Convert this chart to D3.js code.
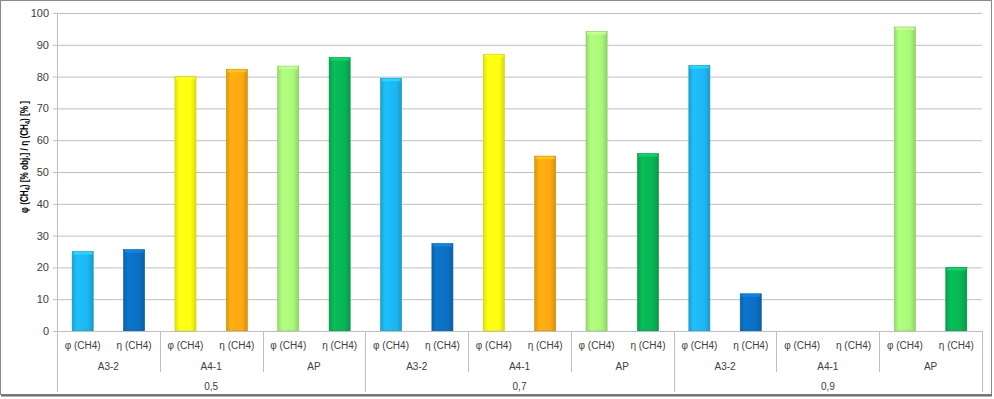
<!DOCTYPE html>
<html>
<head>
<meta charset="utf-8">
<script src="https://cdn.jsdelivr.net/npm/d3@7"></script>
<style>
  body { margin: 0; background: #fff; }
  svg { display: block; font-family: "Liberation Sans", Arial, sans-serif; }
</style>
</head>
<body>
<div id="chart"></div>
<script>
// Category levels (outer to inner)
var groups = ["0,5", "0,7", "0,9"];
var samples = ["A3-2", "A4-1", "AP"];
var measures = ["φ (CH4)", "η (CH4)"];

// Values in group/sample order (null = no bar)
var phiValues = [25.0, 80.0, 83.3, 79.5, 87.0, 94.2, 83.5, null, 95.6];
var etaValues = [25.6, 82.3, 86.0, 27.5, 55.0, 55.8, 11.7, null, 20.0];

var yTicks = [0, 10, 20, 30, 40, 50, 60, 70, 80, 90, 100];

// Bar colours by sample: [phi, eta]
var sampleColors = {
  "A3-2": ["#1cb6f0", "#0a70c2"],
  "A4-1": ["#ffff10", "#ffa810"],
  "AP": ["#a8f878", "#08b454"]
};

var width = 994, height = 399;
var plot = { left: 57, right: 982, top: 13, bottom: 331 };

// Build the leaf rows
var rows = [];
groups.forEach(function (g, gi) {
  samples.forEach(function (s, si) {
    var idx = gi * samples.length + si;
    rows.push({ key: g + "|" + s + "|0", group: g, sample: s, measure: measures[0], m: 0, value: phiValues[idx] });
    rows.push({ key: g + "|" + s + "|1", group: g, sample: s, measure: measures[1], m: 1, value: etaValues[idx] });
  });
});

var svg = d3.select("#chart").append("svg")
  .attr("width", width)
  .attr("height", height);

var defs = svg.append("defs");

// Horizontal shading gradient for each colour
var gradId = {};
Object.keys(sampleColors).forEach(function (s, si) {
  sampleColors[s].forEach(function (c, ci) {
    var id = "g" + si + "_" + ci;
    gradId[s + ci] = id;
    var base = d3.color(c);
    var lg = defs.append("linearGradient").attr("id", id)
      .attr("x1", "0%").attr("x2", "100%").attr("y1", "0%").attr("y2", "0%");
    lg.append("stop").attr("offset", "0%").attr("stop-color", base.darker(0.35));
    lg.append("stop").attr("offset", "22%").attr("stop-color", base.brighter(0.15));
    lg.append("stop").attr("offset", "75%").attr("stop-color", base);
    lg.append("stop").attr("offset", "100%").attr("stop-color", base.darker(0.45));
  });
});

// Scales
var x = d3.scaleBand()
  .domain(rows.map(function (d) { return d.key; }))
  .range([plot.left, plot.right])
  .paddingInner(0.59)
  .paddingOuter(0.295);

var y = d3.scaleLinear()
  .domain([0, 100])
  .range([plot.bottom, plot.top]);

// Outer frame
svg.append("rect")
  .attr("x", 0.5).attr("y", 0.5)
  .attr("width", width - 3).attr("height", height - 5)
  .attr("fill", "#fff")
  .attr("stroke", "#8a8a8a");
svg.append("line")
  .attr("x1", 1).attr("x2", width - 2)
  .attr("y1", height - 3.5).attr("y2", height - 3.5)
  .attr("stroke", "#6e6e6e").attr("stroke-width", 2);

// Gridlines + y axis
var yAxis = svg.append("g")
  .attr("transform", "translate(" + plot.left + ",0)")
  .call(d3.axisLeft(y).tickValues(yTicks).tickSize(-(plot.right - plot.left)).tickSizeOuter(0).tickPadding(8));
yAxis.select(".domain").remove();
yAxis.selectAll(".tick line")
  .attr("stroke", "#bfbfbf")
  .attr("x1", -4);
yAxis.selectAll(".tick text")
  .attr("fill", "#404040")
  .style("font-size", "11px");

svg.append("line")
  .attr("x1", plot.left + 0.5).attr("x2", plot.left + 0.5)
  .attr("y1", plot.top).attr("y2", plot.bottom)
  .attr("stroke", "#bfbfbf");

// Bars
var bars = svg.append("g").selectAll("g.bar")
  .data(rows.filter(function (d) { return d.value != null; }))
  .enter().append("g").attr("class", "bar");

bars.append("rect")
  .attr("x", function (d) { return x(d.key); })
  .attr("y", function (d) { return y(d.value); })
  .attr("width", x.bandwidth())
  .attr("height", function (d) { return y(0) - y(d.value); })
  .attr("fill", function (d) { return "url(#" + gradId[d.sample + d.m] + ")"; })
  .attr("stroke", function (d) { return d3.color(sampleColors[d.sample][d.m]).darker(0.6); })
  .attr("stroke-width", 0.6);

// light cap at the top of each bar
bars.append("rect")
  .attr("x", function (d) { return x(d.key) + 1; })
  .attr("y", function (d) { return y(d.value) + 0.5; })
  .attr("width", x.bandwidth() - 2)
  .attr("height", 2.5)
  .attr("fill", function (d) { return d3.color(sampleColors[d.sample][d.m]).brighter(0.6); })
  .attr("opacity", 0.8);

// Multi-level x axis
var axisCol = "#bfbfbf";
svg.append("line")
  .attr("x1", plot.left).attr("x2", plot.right)
  .attr("y1", plot.bottom + 0.5).attr("y2", plot.bottom + 0.5)
  .attr("stroke", axisCol);

var xg = svg.append("g").attr("class", "x-levels");

// leaf labels
xg.selectAll("text.leaf")
  .data(rows)
  .enter().append("text")
  .attr("class", "leaf")
  .attr("x", function (d) { return x(d.key) + x.bandwidth() / 2; })
  .attr("y", 349)
  .attr("text-anchor", "middle")
  .attr("fill", "#404040")
  .style("font-size", "10px")
  .text(function (d) { return d.measure; });

// sample labels + separators
var sampleCells = [];
groups.forEach(function (g) {
  samples.forEach(function (s) {
    sampleCells.push({ group: g, sample: s,
      x0: x(g + "|" + s + "|0") - x.step() * x.paddingInner() / 2,
      x1: x(g + "|" + s + "|1") + x.bandwidth() + x.step() * x.paddingInner() / 2 });
  });
});

xg.selectAll("text.sample")
  .data(sampleCells)
  .enter().append("text")
  .attr("class", "sample")
  .attr("x", function (d) { return (d.x0 + d.x1) / 2; })
  .attr("y", 370)
  .attr("text-anchor", "middle")
  .attr("fill", "#404040")
  .style("font-size", "10px")
  .text(function (d) { return d.sample; });

xg.selectAll("line.sep")
  .data(sampleCells.filter(function (d, i) { return i % samples.length !== 0; }))
  .enter().append("line")
  .attr("class", "sep")
  .attr("x1", function (d) { return Math.round(d.x0) + 0.5; })
  .attr("x2", function (d) { return Math.round(d.x0) + 0.5; })
  .attr("y1", plot.bottom).attr("y2", 372)
  .attr("stroke", axisCol);

// group labels + separators
var groupCells = groups.map(function (g) {
  return { group: g,
    x0: x(g + "|" + samples[0] + "|0") - x.step() * x.paddingInner() / 2,
    x1: x(g + "|" + samples[samples.length - 1] + "|1") + x.bandwidth() + x.step() * x.paddingInner() / 2 };
});

xg.selectAll("text.group")
  .data(groupCells)
  .enter().append("text")
  .attr("class", "group")
  .attr("x", function (d) { return (d.x0 + d.x1) / 2; })
  .attr("y", 390)
  .attr("text-anchor", "middle")
  .attr("fill", "#404040")
  .style("font-size", "10px")
  .text(function (d) { return d.group; });

xg.selectAll("line.gsep")
  .data(groupCells.concat([{ x0: plot.right }]))
  .enter().append("line")
  .attr("class", "gsep")
  .attr("x1", function (d) { return Math.round(d.x0) + 0.5; })
  .attr("x2", function (d) { return Math.round(d.x0) + 0.5; })
  .attr("y1", plot.bottom).attr("y2", 392)
  .attr("stroke", axisCol);

// Y axis title
var title = svg.append("text")
  .attr("transform", "translate(28,157) rotate(-90)")
  .attr("text-anchor", "middle")
  .attr("fill", "#000")
  .attr("textLength", 112)
  .attr("lengthAdjust", "spacingAndGlyphs")
  .style("font-size", "11px")
  .style("font-weight", "bold");
title.append("tspan").text("φ (CH");
title.append("tspan").attr("dy", 2).style("font-size", "7px").text("4");
title.append("tspan").attr("dy", -2).text(") [% obj.] / η (CH");
title.append("tspan").attr("dy", 2).style("font-size", "7px").text("4");
title.append("tspan").attr("dy", -2).text(")  [% ]");
</script>
</body>
</html>
